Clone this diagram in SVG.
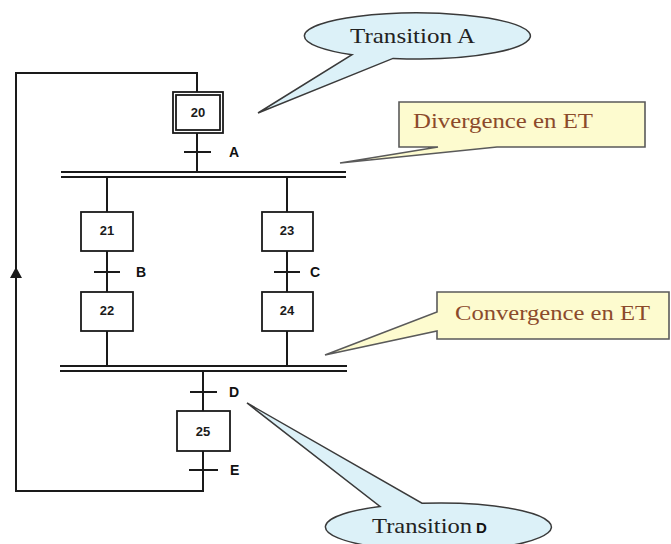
<svg xmlns="http://www.w3.org/2000/svg" width="671" height="544" viewBox="0 0 671 544">
  <defs>
    <style>
      .ln { fill: none; stroke: #1a1a1a; stroke-width: 2; }
      .bar { fill: none; stroke: #1a1a1a; stroke-width: 2.2; }
      .step { fill: #ffffff; stroke: #1a1a1a; stroke-width: 1.8; }
      .tick { stroke: #1a1a1a; stroke-width: 2; }
      .num { font-family: "Liberation Sans", Arial, sans-serif; font-weight: bold; font-size: 13px; fill: #1a1a1a; text-anchor: middle; }
      .lbl { font-family: "Liberation Sans", Arial, sans-serif; font-weight: bold; font-size: 14px; fill: #111111; }
      .bubble { fill: #dcf1f8; stroke: #3a3a3a; stroke-width: 1.5; }
      .note { fill: #fdfbcf; stroke: #5a5a5a; stroke-width: 1.6; }
      .serif { font-family: "Liberation Serif", "Times New Roman", serif; font-size: 22px; }
      .dark { fill: #222222; }
      .brown { fill: #8b4a2b; }
    </style>
  </defs>

  <!-- connectors: links, synchronisation bars and the loop back to step 20 -->
  <g id="connectors">
    <path class="ln" d="M203,451 V491 H16 V73 H197 V92"/>
    <polygon points="16,267 10,278 22,278" fill="#1a1a1a"/>
    <line class="ln" x1="197" y1="133" x2="197" y2="172"/>
    <line class="bar" x1="61" y1="172" x2="346" y2="172"/>
    <line class="bar" x1="61" y1="177" x2="346" y2="177"/>
    <line class="ln" x1="107" y1="177" x2="107" y2="212"/>
    <line class="ln" x1="107" y1="251" x2="107" y2="292"/>
    <line class="ln" x1="107" y1="331" x2="107" y2="366"/>
    <line class="ln" x1="287" y1="177" x2="287" y2="212"/>
    <line class="ln" x1="287" y1="251" x2="287" y2="292"/>
    <line class="ln" x1="287" y1="331" x2="287" y2="366"/>
    <line class="bar" x1="60" y1="366" x2="347" y2="366"/>
    <line class="bar" x1="60" y1="371" x2="347" y2="371"/>
    <line class="ln" x1="203" y1="371" x2="203" y2="411"/>
  </g>

  <!-- steps -->
  <g id="step20">
    <rect class="step" x="173" y="92" width="50" height="41"/>
    <rect class="step" x="176" y="95" width="44" height="35"/>
    <text class="num" x="198" y="117">20</text>
  </g>
  <g id="step21">
    <rect class="step" x="81" y="212" width="52" height="39"/>
    <text class="num" x="107" y="235">21</text>
  </g>
  <g id="step22">
    <rect class="step" x="81" y="292" width="52" height="39"/>
    <text class="num" x="107" y="315">22</text>
  </g>
  <g id="step23">
    <rect class="step" x="262" y="212" width="51" height="39"/>
    <text class="num" x="287" y="235">23</text>
  </g>
  <g id="step24">
    <rect class="step" x="262" y="292" width="51" height="39"/>
    <text class="num" x="287" y="315">24</text>
  </g>
  <g id="step25">
    <rect class="step" x="177" y="411" width="53" height="40"/>
    <text class="num" x="203" y="436">25</text>
  </g>

  <!-- transitions -->
  <g id="transA">
    <line class="tick" x1="184" y1="152" x2="211" y2="152"/>
    <text class="lbl" x="229" y="157">A</text>
  </g>
  <g id="transB">
    <line class="tick" x1="94" y1="272" x2="120" y2="272"/>
    <text class="lbl" x="136" y="277">B</text>
  </g>
  <g id="transC">
    <line class="tick" x1="274" y1="272" x2="300" y2="272"/>
    <text class="lbl" x="310" y="277">C</text>
  </g>
  <g id="transD">
    <line class="tick" x1="190" y1="392" x2="217" y2="392"/>
    <text class="lbl" x="229" y="397">D</text>
  </g>
  <g id="transE">
    <line class="tick" x1="189" y1="470" x2="218" y2="470"/>
    <text class="lbl" x="230" y="475">E</text>
  </g>

  <!-- callouts -->
  <g id="calloutTransA">
    <path class="bubble" d="M393,58.4 A113,23 0 1 0 352,54.7 L258,113 Z"/>
    <text class="serif dark" x="350" y="43" textLength="125" lengthAdjust="spacingAndGlyphs">Transition A</text>
  </g>
  <g id="calloutDivergence">
    <path class="note" d="M399,102 H645 V147 H497 L340,163 L438,147 H399 Z"/>
    <text class="serif brown" x="413" y="128" textLength="180" lengthAdjust="spacingAndGlyphs">Divergence en ET</text>
  </g>
  <g id="calloutConvergence">
    <path class="note" d="M437,292 H669 V339 H437 V331 L325,355 L437,312 Z"/>
    <text class="serif brown" x="455" y="320" textLength="195" lengthAdjust="spacingAndGlyphs">Convergence en ET</text>
  </g>
  <g id="calloutTransD">
    <path class="bubble" d="M422,503.2 A113,24 0 1 1 380,506.4 L247,403 Z"/>
    <text class="serif dark" x="372" y="533" textLength="100" lengthAdjust="spacingAndGlyphs">Transition</text>
    <text class="lbl" x="476" y="533" style="font-size:15px">D</text>
  </g>
</svg>
